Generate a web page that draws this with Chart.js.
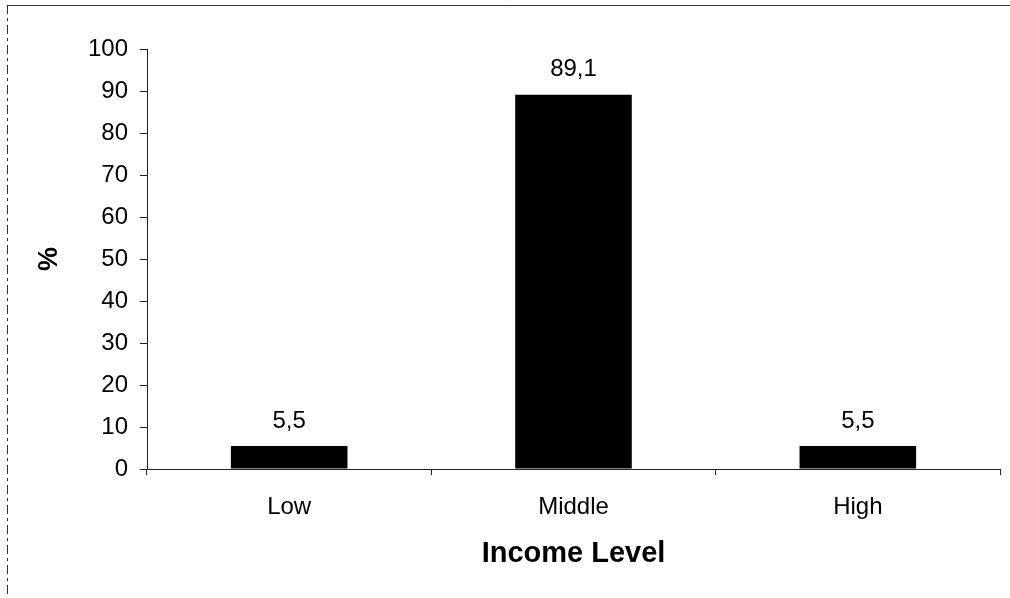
<!DOCTYPE html>
<html>
<head>
<meta charset="utf-8">
<title>Income Level</title>
<script src="https://cdn.jsdelivr.net/npm/chart.js@4/dist/chart.umd.min.js"></script>
<style>
  html, body { margin: 0; padding: 0; background: #ffffff; }
  #wrap { width: 1010px; height: 598px; position: relative; }
</style>
</head>
<body>
<div id="wrap"><canvas id="chart" width="1010" height="598"></canvas></div>
<script>
// Share of respondents by income level (%)
const categories = ['Low', 'Middle', 'High'];
const shares = [5.5, 89.1, 5.5];
const valueLabels = ['5,5', '89,1', '5,5'];
const yTicks = [0, 10, 20, 30, 40, 50, 60, 70, 80, 90, 100];

const FONT = "'Liberation Sans', Arial, sans-serif";

// Thin frame along the top and left edges
const framePlugin = {
  id: 'frame',
  beforeDraw(chart) {
    const ctx = chart.ctx;
    ctx.save();
    ctx.strokeStyle = '#333333';
    ctx.lineWidth = 1;
    ctx.beginPath();
    ctx.moveTo(7, 5.5);
    ctx.lineTo(1010, 5.5);
    ctx.stroke();
    ctx.setLineDash([9, 4, 3, 4]);
    ctx.beginPath();
    ctx.moveTo(7.5, 5);
    ctx.lineTo(7.5, 598);
    ctx.stroke();
    ctx.restore();
  }
};

// Value labels above each bar
const valueLabelPlugin = {
  id: 'valueLabels',
  afterDatasetsDraw(chart) {
    const ctx = chart.ctx;
    const meta = chart.getDatasetMeta(0);
    ctx.save();
    ctx.fillStyle = '#000000';
    ctx.font = '24px ' + FONT;
    ctx.textAlign = 'center';
    ctx.textBaseline = 'middle';
    meta.data.forEach((bar, i) => {
      ctx.fillText(valueLabels[i], bar.x, bar.y - 25);
    });
    ctx.restore();
  }
};

new Chart(document.getElementById('chart'), {
  type: 'bar',
  data: {
    labels: categories,
    datasets: [{
      data: shares,
      backgroundColor: '#000000',
      borderWidth: 0,
      categoryPercentage: 1.0,
      barPercentage: 0.41
    }]
  },
  options: {
    responsive: false,
    animation: false,
    events: [],
    layout: { padding: { top: 49, right: 10, left: 0, bottom: 0 } },
    plugins: {
      legend: { display: false },
      tooltip: { enabled: false }
    },
    scales: {
      x: {
        type: 'category',
        afterFit(scale) { scale.height = 129; },
        border: { display: true, color: '#222222', width: 1 },
        grid: {
          offset: true,
          drawOnChartArea: false,
          drawTicks: true,
          tickLength: 6,
          color: '#222222'
        },
        ticks: {
          color: '#000000',
          font: { family: FONT, size: 24 },
          padding: 18
        },
        title: {
          display: true,
          text: 'Income Level',
          color: '#000000',
          font: { family: FONT, size: 29, weight: 'bold' },
          padding: { top: 0, bottom: 27 }
        }
      },
      y: {
        min: 0,
        max: 100,
        afterFit(scale) { scale.width = 147; },
        afterBuildTicks(scale) { scale.ticks = yTicks.map(v => ({ value: v })); },
        border: { display: true, color: '#222222', width: 1 },
        grid: {
          drawOnChartArea: false,
          drawTicks: true,
          tickLength: 7,
          color: '#222222'
        },
        ticks: {
          color: '#000000',
          font: { family: FONT, size: 24 },
          padding: 12
        },
        title: {
          display: true,
          text: '%',
          color: '#000000',
          font: { family: FONT, size: 27, weight: 'bold' },
          padding: { top: 33, bottom: 0 }
        }
      }
    }
  },
  plugins: [framePlugin, valueLabelPlugin]
});
</script>
</body>
</html>
